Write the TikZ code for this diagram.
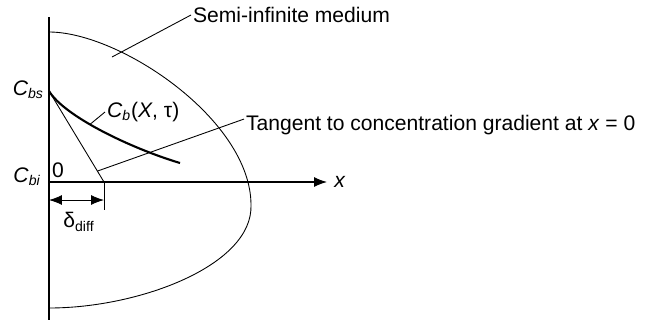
\documentclass[tikz,border=0pt]{standalone}
\usepackage{fontspec}
\setmainfont{Liberation Sans}
\usetikzlibrary{arrows.meta, positioning, calc}

\begin{document}
\begin{tikzpicture}[
		x=0.02cm, y=-0.02cm,
		font=\fontsize{12}{14}\selectfont,
		% Line styles for axes, outline and profile
		axis/.style={line width=0.6pt},
		thin line/.style={line width=0.5pt},
		profile/.style={line width=1.2pt},
		leader/.style={line width=0.5pt},
		% Arrow tips for the axis and the width marker
		tip/.style={-{Latex[length=2.6mm, width=2mm]}},
		dim/.style={{Latex[length=2.6mm, width=2mm]}-{Latex[length=2.6mm, width=2mm]}},
		label/.style={inner sep=1pt}
		]
		\useasboundingbox (0,0) rectangle (645,322);
		
		% --- 1. Axes ---
		\coordinate (O) at (49,182);
		\coordinate (ytop) at (49,17);
		\coordinate (ybot) at (49,320);
		\coordinate (xend) at (327,182);
		\draw[axis] (ytop) -- (ybot);
		\draw[axis, tip] (O) -- (xend);
		\node[label, right=3pt of xend] (xlab) {\textit{x}};
		
		% --- 2. Outline of the semi-infinite medium ---
		\coordinate (mtop) at (49,32);
		\coordinate (mright) at (251,205);
		\coordinate (mbot) at (49,308);
		\draw[thin line] (mtop) .. controls (120,32) and (251,120) .. (mright)
			.. controls (253,265) and (140,308) .. (mbot);
		
		% --- 3. Concentration profile and its tangent at x = 0 ---
		\coordinate (Cs) at (49,91);
		\coordinate (Cend) at (180,163);
		\coordinate (delta) at (104,182);
		\draw[profile] (Cs) .. controls (64,116) and (130,148) .. (Cend)
			coordinate[pos=0.42] (Cpt);
		\draw[thin line] (Cs) -- (delta);
		\draw[thin line] (delta) -- ++(0,28) coordinate (dlow);
		
		% --- 4. Width of the diffusion layer ---
		\coordinate (dimL) at (49,200);
		\coordinate (dimR) at (104,200);
		\draw[thin line, dim] (dimL) -- (dimR);
		\node[label] (dlab) at (79,222) {δ\textsubscript{diff}};
		
		% --- 5. Axis labels ---
		\node[label, anchor=east] (Cbs) at (46,90) {\textit{C}\textsubscript{\textit{bs}}};
		\node[label, anchor=east] (Cbi) at (43,177) {\textit{C}\textsubscript{\textit{bi}}};
		\node[label] (zero) at (58,170) {0};
		
		% --- 6. Callouts ---
		\node[label, anchor=west] (semi) at (191,15) {Semi-infinite medium};
		\coordinate (semipt) at (112,57);
		\draw[leader] (semipt) -- (semi.west);
		
		\node[label, anchor=west] (cb) at (105,112) {\textit{C}\textsubscript{\textit{b}}(\textit{X}, τ)};
		\draw[leader] (Cpt) -- (cb.west);
		
		\node[label, anchor=west] (tan) at (244,125) {Tangent to concentration gradient at \textit{x} = 0};
		\coordinate (tanpt) at ($(Cs)!0.88!(delta)$);
		\draw[leader] (tanpt) -- ($(tan.west)!0.5!(tan.north west)$);
		
	\end{tikzpicture}
\end{document}
